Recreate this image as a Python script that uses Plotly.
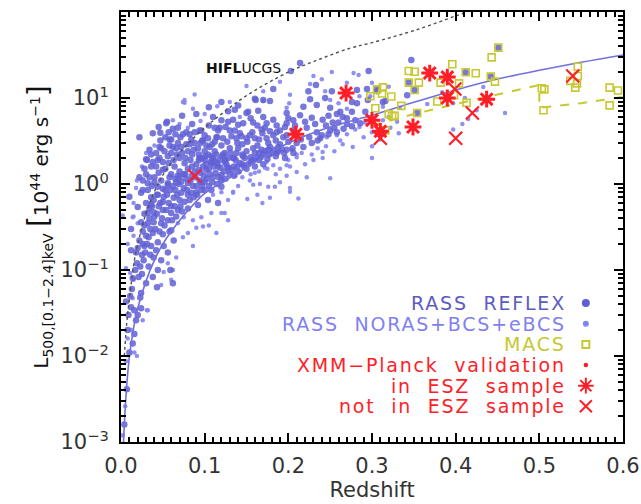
import plotly.graph_objects as go

# ---------------- data ----------------
# RASS REFLEX clusters (redshift, L500 [1e44 erg/s])
reflex_points = [
    (0.451, 38.5), (0.442, 17.7), (0.412, 19.9), (0.347, 27.6), (0.296, 20.6), (0.214, 25.5), (0.203, 20.6),
    (0.294, 12.7), (0.282, 12.4), (0.306, 12.0), (0.306, 12.6), (0.351, 12.4), (0.344, 15.1), (0.282, 8.7),
    (0.295, 9.5), (0.313, 9.0), (0.316, 9.2), (0.342, 10.8), (0.276, 6.9), (0.292, 6.9), (0.354, 6.7),
    (0.252, 12.0), (0.182, 12.7), (0.233, 14.2), (0.224, 12.0), (0.161, 9.5), (0.178, 9.2), (0.226, 9.7),
    (0.244, 10.0), (0.276, 9.0), (0.218, 7.9), (0.234, 8.3), (0.250, 7.7), (0.262, 6.9), (0.265, 6.0),
    (0.136, 7.3), (0.152, 6.9), (0.164, 7.1), (0.198, 6.7), (0.214, 6.3), (0.228, 5.9), (0.241, 5.6),
    (0.253, 5.2), (0.134, 5.6), (0.146, 5.1), (0.158, 5.2), (0.174, 5.1), (0.186, 4.8), (0.198, 5.1),
    (0.118, 4.5), (0.130, 4.2), (0.142, 3.9), (0.157, 4.0), (0.169, 3.9), (0.182, 3.7), (0.194, 3.5),
    (0.222, 4.5), (0.234, 4.0), (0.127, 3.1), (0.139, 3.0), (0.151, 3.1), (0.163, 2.8), (0.176, 3.0),
    (0.188, 2.7), (0.122, 2.2), (0.134, 2.0), (0.146, 2.1), (0.127, 1.55),
    (0.160, 9.8), (0.170, 9.5), (0.150, 6.7), (0.206, 5.5), (0.196, 4.6), (0.172, 4.5), (0.163, 4.8),
    (0.150, 3.4), (0.174, 3.4), (0.186, 4.0), (0.198, 3.7), (0.206, 4.2),
    (0.055, 5.3), (0.053, 3.5), (0.071, 3.5), (0.082, 3.8), (0.094, 4.2), (0.097, 3.2), (0.115, 3.5),
    (0.109, 2.9), (0.136, 4.2), (0.038, 3.9), (0.022, 3.5), (0.073, 6.2), (0.054, 5.1), (0.047, 3.95),
    (0.057, 4.0), (0.058, 3.3), (0.047, 3.2), (0.074, 3.8), (0.084, 3.3), (0.096, 4.2), (0.098, 3.2),
    (0.034, 2.5), (0.030, 1.94), (0.044, 1.9), (0.056, 2.1), (0.066, 2.6), (0.080, 2.4), (0.092, 2.6),
    (0.114, 3.5), (0.116, 4.2), (0.125, 4.6), (0.120, 2.8), (0.106, 2.7), (0.094, 2.0), (0.108, 2.1),
    (0.124, 2.3), (0.050, 1.46), (0.036, 1.6), (0.064, 1.6), (0.076, 1.74), (0.022, 1.2), (0.040, 1.2),
    (0.102, 1.46), (0.116, 1.6), (0.125, 1.9), (0.032, 1.02), (0.056, 1.02), (0.072, 1.06), (0.100, 1.06),
    (0.120, 1.27), (0.031, 1.9), (0.026, 0.85),
    (0.060, 1.3), (0.070, 1.4), (0.080, 1.5), (0.090, 1.7), (0.100, 1.9), (0.110, 2.0), (0.065, 1.15),
    (0.085, 1.25), (0.095, 1.35), (0.105, 1.5), (0.115, 1.75), (0.135, 1.6), (0.045, 1.35), (0.050, 1.8),
    (0.060, 2.3), (0.070, 2.0), (0.085, 2.2), (0.100, 2.4), (0.110, 1.2), (0.090, 0.95), (0.130, 2.6),
    (0.140, 2.6), (0.150, 2.4), (0.160, 2.3), (0.170, 2.2), (0.180, 2.3), (0.190, 2.9), (0.145, 1.7),
    (0.155, 1.8), (0.165, 1.9), (0.175, 1.95), (0.185, 2.1), (0.195, 2.3), (0.205, 2.6), (0.210, 3.0),
    (0.215, 3.3), (0.200, 3.1), (0.225, 3.5), (0.240, 3.7), (0.235, 3.2), (0.250, 4.2), (0.255, 4.5),
    (0.245, 4.8), (0.260, 5.2), (0.270, 5.0), (0.270, 5.8), (0.280, 5.5), (0.120, 1.1), (0.130, 1.3),
    (0.140, 1.4), (0.150, 1.5), (0.160, 1.6), (0.170, 1.7), (0.105, 0.95), (0.115, 1.0), (0.125, 1.15),
    (0.135, 1.25), (0.080, 0.75), (0.070, 0.65), (0.060, 0.55), (0.075, 0.9), (0.065, 0.85), (0.090, 0.8),
    (0.100, 0.85), (0.045, 0.55), (0.040, 0.42), (0.035, 0.3), (0.030, 0.25), (0.028, 0.19), (0.025, 0.15),
    (0.050, 0.62), (0.055, 0.75), (0.043, 0.75), (0.040, 1.05), (0.048, 1.1), (0.058, 1.2), (0.068, 1.25),
    (0.036, 0.7), (0.030, 0.6), (0.028, 0.45), (0.034, 0.52), (0.062, 0.95), (0.078, 1.15), (0.088, 1.4),
    (0.098, 1.6), (0.108, 1.75), (0.118, 1.9), (0.128, 2.0), (0.138, 2.3), (0.148, 2.0), (0.158, 2.6),
    (0.168, 2.5), (0.178, 2.7), (0.198, 2.5), (0.185, 3.2), (0.165, 3.3), (0.145, 2.9), (0.112, 2.4),
    (0.102, 2.8), (0.088, 3.0), (0.078, 2.9), (0.068, 3.0), (0.062, 2.7), (0.052, 2.4), (0.042, 2.3),
    (0.038, 1.8), (0.068, 4.5), (0.085, 5.0), (0.105, 4.8), (0.120, 5.5), (0.045, 4.6), (0.062, 4.4),
    (0.090, 6.5), (0.110, 6.0), (0.128, 7.0), (0.140, 8.2), (0.105, 7.8), (0.120, 9.0),
    (0.010, 0.71), (0.012, 0.30), (0.012, 0.17), (0.018, 0.16), (0.021, 0.083), (0.024, 0.054),
    (0.012, 0.037), (0.030, 0.070), (0.038, 0.083), (0.044, 0.10), (0.033, 0.11), (0.039, 0.14),
    (0.027, 0.13), (0.048, 0.13), (0.026, 0.20), (0.036, 0.19), (0.044, 0.21), (0.051, 0.19), (0.056, 0.16),
    (0.038, 0.27), (0.050, 0.26), (0.060, 0.29), (0.063, 0.22), (0.024, 0.36), (0.032, 0.35), (0.039, 0.36),
    (0.048, 0.35), (0.056, 0.38), (0.020, 0.54), (0.032, 0.46), (0.039, 0.47), (0.050, 0.50), (0.060, 0.46),
    (0.068, 0.50), (0.080, 0.52), (0.092, 0.57), (0.104, 0.65), (0.116, 0.60), (0.039, 0.65), (0.051, 0.71),
    (0.063, 0.69), (0.072, 0.79), (0.084, 0.79), (0.096, 0.85), (0.108, 0.85), (0.120, 0.93), (0.044, 0.93),
    (0.056, 0.98), (0.032, 0.85), (0.024, 0.79), (0.080, 1.03), (0.096, 1.05),
    (0.006, 0.043), (0.016, 0.034), (0.024, 0.036), (0.020, 0.030), (0.018, 0.026), (0.016, 0.018),
    (0.014, 0.014), (0.010, 0.011), (0.007, 0.0041), (0.004, 0.0016),
    (0.043, 0.063), (0.023, 0.048), (0.059, 0.10), (0.062, 0.07),
    (0.008, 0.02), (0.009, 0.03), (0.011, 0.05), (0.013, 0.06), (0.014, 0.08), (0.017, 0.10), (0.019, 0.12),
    (0.020, 0.18), (0.022, 0.22), (0.023, 0.11), (0.025, 0.09), (0.026, 0.28), (0.028, 0.33), (0.029, 0.16),
    (0.031, 0.20), (0.033, 0.24), (0.034, 0.40), (0.035, 0.15), (0.037, 0.55), (0.041, 0.30), (0.042, 0.17),
    (0.043, 0.45), (0.046, 0.28), (0.047, 0.60), (0.049, 0.40), (0.052, 0.33), (0.053, 0.85), (0.054, 0.50),
    (0.057, 0.60), (0.058, 0.28), (0.061, 0.38), (0.064, 0.55), (0.066, 0.42), (0.067, 0.75), (0.069, 1.0),
    (0.071, 0.55), (0.073, 0.48), (0.076, 0.62), (0.077, 1.3), (0.079, 0.85), (0.082, 0.65), (0.083, 1.1),
    (0.086, 0.95), (0.087, 0.70), (0.089, 1.2), (0.091, 0.75), (0.093, 1.45), (0.094, 1.1), (0.097, 0.95),
    (0.099, 1.25), (0.101, 2.1), (0.103, 1.15), (0.106, 1.3), (0.107, 1.8), (0.109, 1.05), (0.111, 1.6),
    (0.113, 1.35), (0.114, 2.2), (0.117, 1.2), (0.119, 1.55), (0.121, 2.1), (0.123, 1.4), (0.126, 1.7),
    (0.129, 1.55), (0.131, 2.3), (0.133, 1.45), (0.137, 1.9), (0.139, 1.6), (0.142, 1.75), (0.147, 1.6),
    (0.152, 1.7), (0.157, 1.9), (0.162, 2.0), (0.167, 2.05), (0.172, 2.4), (0.177, 2.2), (0.183, 2.5),
    (0.188, 2.4), (0.192, 2.55), (0.042, 1.6), (0.046, 2.0), (0.053, 1.5), (0.057, 1.75), (0.063, 1.9),
    (0.067, 2.2), (0.073, 2.3), (0.077, 2.0), (0.083, 1.9), (0.087, 2.5), (0.093, 2.2), (0.097, 2.0),
    (0.104, 2.2), (0.046, 2.7), (0.058, 2.8), (0.072, 2.7), (0.082, 2.9), (0.095, 3.0), (0.104, 3.4),
    (0.112, 3.1), (0.122, 3.4), (0.132, 3.6), (0.138, 3.4), (0.144, 3.6), (0.154, 3.7), (0.160, 3.4),
    (0.168, 4.3), (0.178, 4.1), (0.190, 4.2), (0.208, 4.8), (0.220, 5.3), (0.232, 5.0), (0.248, 6.2),
    (0.258, 6.5), (0.200, 5.8), (0.182, 5.6), (0.170, 6.0), (0.155, 5.8), (0.140, 4.9), (0.128, 5.3),
    (0.112, 4.5), (0.100, 3.7), (0.088, 4.0), (0.078, 4.0), (0.065, 3.8), (0.060, 3.3), (0.048, 2.6),
    (0.036, 2.2), (0.028, 1.5), (0.026, 1.1), (0.030, 1.3), (0.034, 1.2), (0.037, 0.95), (0.044, 0.75),
    (0.036, 0.58), (0.050, 0.88), (0.059, 0.85), (0.066, 1.05), (0.070, 1.2), (0.075, 1.3), (0.085, 1.6),
    (0.093, 1.9), (0.102, 1.7), (0.112, 1.85), (0.124, 1.8), (0.135, 2.0), (0.145, 2.2), (0.155, 2.05),
    (0.165, 2.3), (0.176, 2.5), (0.186, 2.3), (0.196, 2.0), (0.206, 2.3), (0.218, 2.7), (0.228, 3.0),
    (0.238, 3.4), (0.248, 3.8), (0.258, 4.0), (0.266, 4.4), (0.276, 4.7), (0.286, 5.1),
]

# RASS NORAS+BCS+eBCS clusters (redshift, L500)
noras_points = [
    (0.252, 20.0), (0.278, 19.5), (0.150, 13.8), (0.226, 14.5), (0.244, 12.0), (0.202, 10.9), (0.170, 9.2),
    (0.201, 8.7), (0.246, 3.5), (0.258, 3.7), (0.277, 2.7), (0.204, 2.5), (0.216, 2.3), (0.228, 2.2),
    (0.241, 2.0), (0.160, 1.9), (0.174, 1.8), (0.182, 1.65), (0.198, 1.65), (0.210, 1.38), (0.222, 1.2),
    (0.250, 1.17), (0.142, 1.38), (0.154, 1.1), (0.166, 1.0), (0.184, 0.93), (0.202, 0.9), (0.122, 1.1),
    (0.134, 0.79), (0.151, 0.67), (0.169, 0.6), (0.212, 0.68), (0.124, 0.46),
    (0.284, 18.5), (0.366, 8.5), (0.313, 7.9), (0.333, 7.7), (0.280, 4.3), (0.292, 5.2), (0.313, 5.5),
    (0.322, 4.5), (0.332, 3.9), (0.300, 2.75), (0.300, 2.0), (0.397, 4.3), (0.408, 5.0), (0.415, 5.7),
    (0.425, 7.2), (0.397, 8.7), (0.411, 10.0), (0.384, 11.7), (0.433, 13.4), (0.459, 6.7), (0.241, 2.35),
    (0.262, 3.2), (0.245, 2.75), (0.298, 10.5),
    (0.088, 11.0), (0.076, 8.8), (0.062, 5.5), (0.076, 9.5), (0.019, 1.1), (0.014, 0.41), (0.002, 0.43),
    (0.074, 9.0), (0.086, 7.5), (0.142, 6.0), (0.198, 7.7), (0.116, 4.5), (0.210, 2.05), (0.202, 1.6),
    (0.198, 1.25), (0.172, 1.55), (0.160, 1.35), (0.137, 1.25), (0.128, 1.38), (0.158, 0.98), (0.176, 0.93),
    (0.190, 1.05), (0.163, 0.75), (0.178, 0.69), (0.202, 0.81), (0.134, 0.81),
    (0.015, 0.42), (0.006, 0.105), (0.011, 0.092), (0.015, 0.077), (0.056, 0.12), (0.051, 0.095),
    (0.060, 0.077), (0.048, 0.067), (0.062, 0.10), (0.066, 0.14), (0.086, 0.19), (0.074, 0.24),
    (0.080, 0.27), (0.090, 0.31), (0.098, 0.32), (0.105, 0.33), (0.114, 0.27), (0.128, 0.38), (0.120, 0.46),
    (0.108, 0.46), (0.096, 0.41), (0.086, 0.38), (0.068, 0.35), (0.075, 0.41), (0.128, 0.65), (0.014, 0.047),
    (0.032, 0.034), (0.026, 0.026), (0.012, 0.020), (0.016, 0.011), (0.006, 0.0087), (0.005, 0.0026),
    (0.002, 0.0012), (0.008, 0.016), (0.019, 0.010), (0.031, 0.034),
    (0.110, 0.75), (0.120, 0.8), (0.140, 0.95), (0.145, 1.2), (0.155, 1.3), (0.165, 1.4), (0.175, 1.5),
    (0.185, 1.3), (0.190, 1.5), (0.200, 1.9), (0.210, 2.2), (0.220, 1.7), (0.230, 1.9), (0.235, 2.6),
    (0.255, 2.4), (0.265, 2.9), (0.270, 3.8), (0.285, 4.6), (0.290, 3.5), (0.300, 4.0), (0.310, 3.3),
    (0.320, 6.0), (0.330, 5.3), (0.270, 7.5), (0.260, 8.7), (0.250, 9.5), (0.285, 10.5), (0.300, 15.0),
    (0.320, 13.5), (0.270, 15.0), (0.240, 16.5), (0.230, 18.0), (0.190, 15.5), (0.170, 12.0), (0.130, 9.0),
    (0.115, 8.0), (0.100, 6.5), (0.095, 5.4), (0.080, 4.5), (0.070, 5.0), (0.040, 2.8), (0.030, 2.3),
    (0.025, 1.6), (0.018, 0.9), (0.015, 0.6), (0.020, 0.35), (0.015, 0.25), (0.008, 0.2),
]

# MACS clusters
macs_points = [
    (0.451, 38.5), (0.443, 29.7), (0.396, 24.7), (0.344, 20.6), (0.351, 20.2), (0.412, 19.9), (0.424, 19.4),
    (0.442, 17.7), (0.447, 15.5), (0.344, 15.1), (0.356, 15.1), (0.382, 15.1), (0.404, 14.8), (0.306, 12.6),
    (0.313, 13.3), (0.312, 11.3), (0.323, 10.4), (0.298, 10.5), (0.351, 12.4), (0.398, 10.8), (0.378, 9.1),
    (0.413, 8.8), (0.335, 8.1), (0.304, 7.6), (0.320, 6.5), (0.324, 6.2), (0.327, 6.2), (0.354, 6.7),
    (0.316, 4.2), (0.503, 13.0), (0.506, 12.6), (0.505, 7.2), (0.546, 23.1), (0.546, 18.0), (0.537, 15.8),
    (0.545, 14.8), (0.543, 13.2), (0.584, 13.2), (0.594, 12.2), (0.584, 8.2),
]

# XMM-Planck validation clusters
esz_points = [(0.209, 3.8), (0.269, 11.4), (0.300, 5.5), (0.310, 4.1), (0.349, 4.6), (0.369, 19.5),
              (0.390, 17.5), (0.390, 10.0), (0.437, 9.7)]
not_esz_points = [(0.088, 1.24), (0.310, 3.4), (0.399, 12.7), (0.420, 6.7), (0.400, 3.4), (0.540, 18.0)]

# flux-limit curves
reflex_limit_z = [0.003, 0.006, 0.01, 0.015, 0.02, 0.025, 0.03, 0.04, 0.05, 0.06, 0.075, 0.1, 0.125, 0.15,
                  0.2, 0.25, 0.3, 0.35, 0.4, 0.45, 0.5, 0.55, 0.6]
reflex_limit_lum = [0.001, 0.0035, 0.0098, 0.021, 0.036, 0.052, 0.075, 0.13, 0.2, 0.28, 0.43, 0.78, 1.1,
                    1.55, 3.0, 4.6, 6.3, 8.9, 12.4, 16.6, 21.0, 26.0, 31.6]
hiflucgs_z = [0.004, 0.007, 0.01, 0.016, 0.022, 0.03, 0.038, 0.045, 0.05, 0.07, 0.094, 0.12, 0.151, 0.2,
              0.238, 0.274, 0.3, 0.353, 0.4, 0.42]
hiflucgs_lum = [0.01, 0.025, 0.045, 0.13, 0.24, 0.46, 0.74, 1.03, 1.27, 2.3, 4.0, 6.5, 10.8, 20.0, 28.4,
                38.0, 44.0, 62.0, 90.0, 106.0]
macs_limit_z = [0.3, 0.35, 0.4, 0.45, 0.5, 0.5, 0.55, 0.6]
macs_limit_lum = [4.8, 6.5, 8.5, 11.1, 14.2, 7.7, 8.7, 10.3]

legend_labels = ["RASS\u00a0\u00a0REFLEX", "RASS\u00a0\u00a0NORAS+BCS+eBCS", "MACS",
                 "XMM\u2212Planck\u00a0\u00a0validation", "in\u00a0\u00a0ESZ\u00a0\u00a0sample",
                 "not\u00a0\u00a0in\u00a0\u00a0ESZ\u00a0\u00a0sample"]

x_ticks = [0.0, 0.1, 0.2, 0.3, 0.4, 0.5, 0.6]
x_ticktext = ["0.0", "0.1", "0.2", "0.3", "0.4", "0.5", "0.6"]
y_ticks = [1e-3, 1e-2, 1e-1, 1e0, 1e1, 1e2]
y_ticktext = ["10<sup>\u22123</sup>", "10<sup>\u22122</sup>", "10<sup>\u22121</sup>",
              "10<sup>0</sup>", "10<sup>1</sup>", "10<sup>2</sup>"]

# ---------------- styles ----------------
C_REFLEX = "rgb(96,96,214)"
C_NORAS = "rgb(132,132,240)"
C_MACS = "rgb(200,200,50)"
C_RED = "rgb(255,30,40)"
C_LINE = "rgb(112,112,222)"
FONT = "DejaVu Sans"


def unzip(points):
    return [p[0] for p in points], [p[1] for p in points]


fig = go.Figure()

nz, nl = unzip(noras_points)
fig.add_trace(go.Scatter(x=nz, y=nl, mode="markers",
                         marker=dict(size=4.5, color=C_NORAS, opacity=0.9, line=dict(width=0))))
rz, rl = unzip(reflex_points)
fig.add_trace(go.Scatter(x=rz, y=rl, mode="markers",
                         marker=dict(size=6.5, color=C_REFLEX, opacity=0.85, line=dict(width=0))))

fig.add_trace(go.Scatter(x=hiflucgs_z, y=hiflucgs_lum, mode="lines", line_shape="spline",
                         line=dict(color="#505050", width=1.4, dash="dot")))
fig.add_trace(go.Scatter(x=reflex_limit_z, y=reflex_limit_lum, mode="lines", line_shape="spline",
                         line=dict(color=C_LINE, width=1.6)))
fig.add_trace(go.Scatter(x=macs_limit_z, y=macs_limit_lum, mode="lines",
                         line=dict(color=C_MACS, width=2, dash="dash")))

mz, ml = unzip(macs_points)
fig.add_trace(go.Scatter(x=mz, y=ml, mode="markers",
                         marker=dict(symbol="square-open", size=7, color=C_MACS, line=dict(width=1.6, color=C_MACS))))
ez, el = unzip(esz_points)
fig.add_trace(go.Scatter(x=ez, y=el, mode="markers",
                         marker=dict(symbol="asterisk-open", size=14, color=C_RED, line=dict(width=3, color=C_RED))))
xz, xl = unzip(not_esz_points)
fig.add_trace(go.Scatter(x=xz, y=xl, mode="markers",
                         marker=dict(symbol="x-thin-open", size=13, color=C_RED, line=dict(width=2.2, color=C_RED))))

# legend keys (drawn on an overlaid unit axis, to the right of the text)
key_x = [0.926] * 6
key_y = [0.323, 0.275, 0.227, 0.179, 0.131, 0.083]
key_symbols = ["circle", "circle", "square-open", "circle", "asterisk-open", "x-thin-open"]
key_sizes = [6, 4, 7, 2.5, 13, 12]
key_colors = [C_REFLEX, C_NORAS, C_MACS, C_RED, C_RED, C_RED]
for kx, ky, ks, kz, kc in zip(key_x, key_y, key_symbols, key_sizes, key_colors):
    fig.add_trace(go.Scatter(x=[kx], y=[ky], xaxis="x2", yaxis="y2", mode="markers",
                             marker=dict(symbol=ks, size=kz, color=kc, line=dict(width=2, color=kc))))

# empty trace that attaches the mirrored tick axes (top / right)
fig.add_trace(go.Scatter(x=[], y=[], xaxis="x3", yaxis="y3", mode="markers", hoverinfo="skip"))

label_colors = ["rgb(92,92,190)", "rgb(128,128,240)", C_MACS, C_RED, C_RED, C_RED]
for lab, ky, lc in zip(legend_labels, key_y, label_colors):
    fig.add_annotation(x=0.890, y=ky, xref="paper", yref="paper",
                       text="<span style='letter-spacing:1.8px'>" + lab + "</span>", showarrow=False,
                       xanchor="right", yanchor="middle", font=dict(family=FONT, size=19, color=lc))

fig.add_annotation(x=0.146, y=1.349, xref="x", yref="y", text="<b>HIFL</b>UCGS", showarrow=False,
                   xanchor="center", yanchor="middle", font=dict(family=FONT, size=14, color="#111111"))

tick_style = dict(ticks="inside", tickcolor="black", tickwidth=2, ticklen=9, showgrid=False, zeroline=False,
                  automargin=False)
y_minor = [m * 10.0 ** e for e in range(-3, 2) for m in range(2, 10)]
x_minor = dict(dtick=0.01, ticks="inside", ticklen=5, tickwidth=1.5, tickcolor="black")
y_minor_d = dict(tickvals=y_minor, ticks="inside", ticklen=5, tickwidth=1.5, tickcolor="black")
label_font = dict(family=FONT, size=21, color="#333333")

fig.update_layout(
    width=641, height=504, margin=dict(l=121, r=18, t=12, b=62, autoexpand=False),
    paper_bgcolor="white", plot_bgcolor="white", showlegend=False,
    xaxis=dict(range=[0, 0.6], tickvals=x_ticks, ticktext=x_ticktext, minor=x_minor,
               showline=True, linecolor="black", linewidth=2, mirror=True, tickfont=label_font,
               ticklabelstandoff=4,
               title=dict(text="Redshift", font=dict(family=FONT, size=21, color="#333333"), standoff=2),
               **tick_style),
    yaxis=dict(type="log", range=[-3, 2], tickvals=y_ticks, ticktext=y_ticktext, minor=y_minor_d,
               showline=True, linecolor="black", linewidth=2, mirror=True, tickfont=label_font,
               ticklabelstandoff=6,
               title=dict(text="L<sub>500,[0.1\u22122.4]keV</sub> <span style='font-size:28px'>[</span>10<sup>44</sup> erg s<sup>\u22121</sup><span style='font-size:28px'>]</span>",
                          font=dict(family=FONT, size=20, color="#111111"), standoff=6),
               **tick_style),
    xaxis2=dict(overlaying="x", range=[0, 1], visible=False, fixedrange=True),
    yaxis2=dict(overlaying="y", range=[0, 1], visible=False, fixedrange=True),
    xaxis3=dict(overlaying="x", side="top", range=[0, 0.6], tickvals=x_ticks, showticklabels=False,
                minor=x_minor, showline=False, **tick_style),
    yaxis3=dict(overlaying="y", side="right", type="log", range=[-3, 2], tickvals=y_ticks,
                showticklabels=False, minor=y_minor_d, showline=False, **tick_style),
)

fig.write_html("out.html")
